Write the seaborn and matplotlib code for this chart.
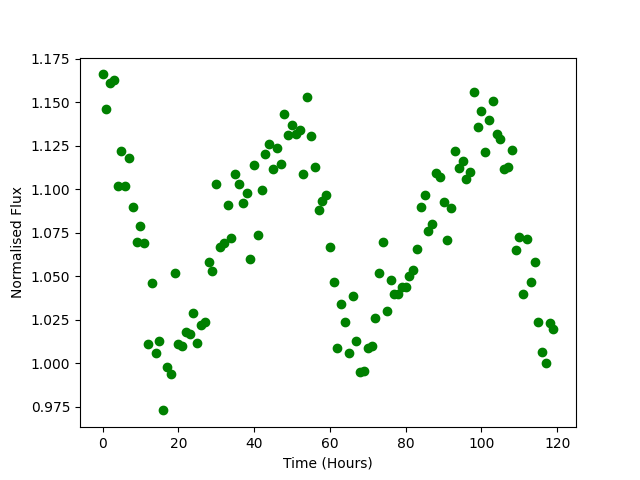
import numpy as np
import matplotlib
matplotlib.use('Agg')
import matplotlib.pyplot as plt
import pandas as pd
import seaborn as sns

# Time in hours, one sample per hour
hours = list(range(120))

# Normalised flux
flux = [1.166, 1.146, 1.161, 1.163, 1.102, 1.122, 1.102, 1.118, 1.090, 1.070,
        1.079, 1.069, 1.011, 1.046, 1.006, 1.013, 0.973, 0.998, 0.994, 1.052,
        1.011, 1.010, 1.018, 1.017, 1.029, 1.012, 1.022, 1.0235, 1.058, 1.053,
        1.103, 1.067, 1.069, 1.091, 1.072, 1.109, 1.103, 1.092, 1.098, 1.060,
        1.114, 1.0735, 1.0995, 1.120, 1.126, 1.1116, 1.1235, 1.1143, 1.143, 1.131,
        1.1367, 1.1316, 1.134, 1.1087, 1.153, 1.1306, 1.1128, 1.088, 1.093, 1.0967,
        1.067, 1.047, 1.009, 1.034, 1.024, 1.0057, 1.0386, 1.0128, 0.995, 0.9957,
        1.009, 1.010, 1.0258, 1.052, 1.0695, 1.030, 1.048, 1.040, 1.040, 1.0436,
        1.0438, 1.050, 1.0534, 1.0655, 1.0896, 1.0965, 1.076, 1.0798, 1.1093, 1.1068,
        1.0926, 1.071, 1.089, 1.1218, 1.112, 1.116, 1.106, 1.110, 1.156, 1.136,
        1.1448, 1.1212, 1.1396, 1.1505, 1.132, 1.129, 1.1118, 1.1126, 1.1224, 1.065,
        1.0724, 1.040, 1.0712, 1.0465, 1.058, 1.0235, 1.0064, 1.0005, 1.023, 1.0195]

df = pd.DataFrame({'hours': hours, 'flux': flux})

fig = plt.figure(figsize=(6.4, 4.8), dpi=100)
ax = fig.add_subplot(111)

sns.scatterplot(data=df, x='hours', y='flux', color='green', s=36,
                edgecolor='green', linewidth=1, ax=ax)
ax.set_xlabel('Time (Hours)')
ax.set_ylabel('Normalised Flux')

fig.savefig('out.png', dpi=100)
